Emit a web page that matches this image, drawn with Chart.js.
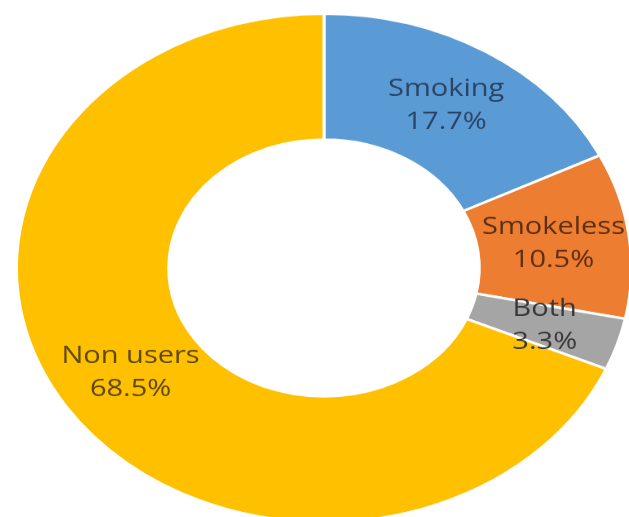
<!DOCTYPE html>
<html>
<head>
<meta charset="utf-8">
<script src="https://cdn.jsdelivr.net/npm/chart.js@4"></script>
<style>
  html, body { margin: 0; padding: 0; background: #fff; overflow: hidden; }
  #wrap {
    position: absolute; left: 0; top: 0;
    width: 650px; height: 650px;
    transform: scaleY(0.827);
    transform-origin: 0 0;
  }
</style>
</head>
<body>
<div id="wrap"><canvas id="chart" width="650" height="650"></canvas></div>
<script>
const labels = ["Smoking", "Smokeless", "Both", "Non users"];
const shares = [17.7, 10.5, 3.3, 68.5];
const sliceColors = ["#5B9BD5", "#ED7D31", "#A5A5A5", "#FFC000"];
const textColors = ["#2A4466", "#5E2E12", "#383838", "#5E480C"];

/* labels drawn at each arc's middle */
const sliceLabels = {
    id: "sliceLabels",
    afterDatasetsDraw(chart) {
        const ctx = chart.ctx;
        const arcs = chart.getDatasetMeta(0).data;
        ctx.save();
        ctx.font = "29px 'Open Sans'";
        ctx.textAlign = "center";
        ctx.textBaseline = "middle";
        arcs.forEach((arc, i) => {
            const p = arc.tooltipPosition();
            ctx.fillStyle = textColors[i];
            ctx.fillText(labels[i], p.x, p.y - 20);
            ctx.fillText(shares[i].toFixed(1) + "%", p.x, p.y + 20);
        });
        ctx.restore();
    }
};

new Chart(document.getElementById("chart"), {
    type: "doughnut",
    data: {
        labels: labels,
        datasets: [{
            data: shares,
            backgroundColor: sliceColors,
            borderColor: "#ffffff",
            borderWidth: 3
        }]
    },
    options: {
        responsive: false,
        animation: false,
        cutout: "50.5%",
        layout: { padding: { left: 15, top: 15, right: 17, bottom: 17 } },
        plugins: {
            legend: { display: false },
            tooltip: { enabled: false }
        }
    },
    plugins: [sliceLabels]
});
</script>
</body>
</html>
